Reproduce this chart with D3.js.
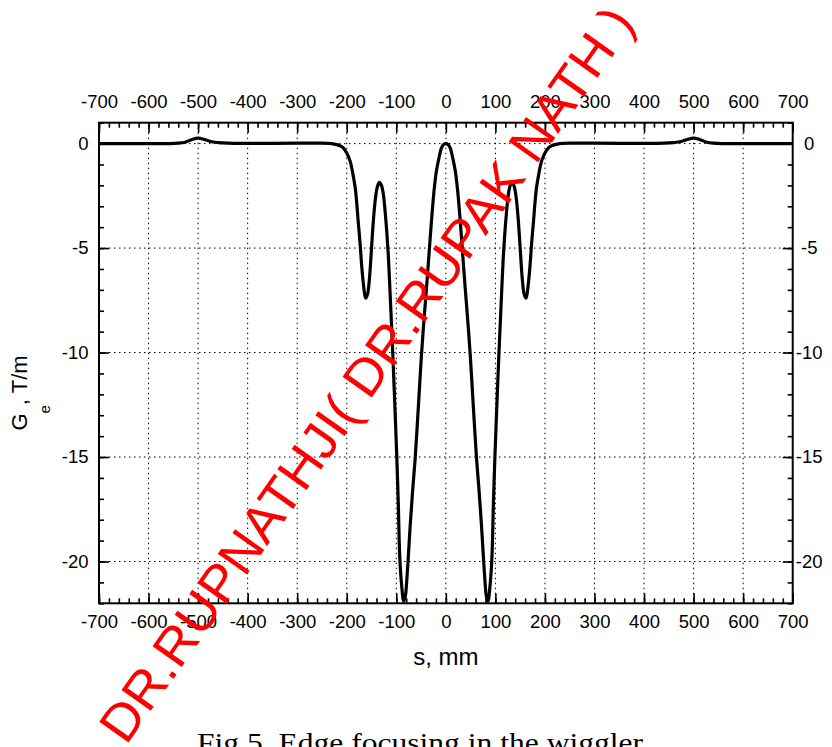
<!DOCTYPE html>
<html><head><meta charset="utf-8">
<script src="https://cdn.jsdelivr.net/npm/d3@7"></script>
<style>
html,body{margin:0;padding:0;background:#fff;}
svg{display:block;}
text{font-family:"Liberation Sans",Arial,sans-serif;}
</style></head>
<body>
<svg id="chart" width="832" height="747"></svg>
<script>
// ---- data ----
const sValues = [-700,-600,-560,-540,-525,-512,-500,-488,-475,-460,-440,-400,-300,-260,-230,-220,-212,-207,-200,-193,-188,-183,-180,-177,-173,-170,-166,-162,-158,-154,-150,-146,-142,-138,-134,-130,-126,-122,-119,-116,-113,-110,-107,-103,-99,-96,-93,-89,-85,-82,-78,-72,-67,-62,-57,-52,-49,-44,-39,-34,-29,-24,-19,-14,-9,-4,0,
 4,9,14,19,24,29,34,39,44,49,52,57,62,67,72,78,82,85,89,93,96,99,103,107,110,113,116,119,122,126,130,134,138,142,146,150,154,158,162,166,170,173,177,180,183,188,193,200,207,212,220,230,260,300,400,440,460,475,488,500,512,525,540,560,600,700];
const gValues = [0,0,0,0.02,0.08,0.2,0.26,0.2,0.1,0.05,0.02,0.01,0.02,0.02,0,-0.05,-0.12,-0.2,-0.45,-0.85,-1.4,-2.1,-2.8,-3.7,-4.8,-5.8,-6.8,-7.4,-7.2,-6.4,-5.0,-3.6,-2.6,-2.05,-1.86,-2.0,-2.45,-3.4,-4.3,-5.4,-6.9,-8.5,-10.1,-12.5,-15.0,-17.2,-19.8,-21.2,-21.9,-21.7,-20.6,-18.3,-16.6,-15.1,-13.2,-11.2,-10.05,-8.4,-6.9,-5.3,-3.7,-2.3,-1.3,-0.7,-0.22,-0.03,0,
 -0.03,-0.22,-0.7,-1.3,-2.3,-3.7,-5.3,-6.9,-8.4,-10.05,-11.2,-13.2,-15.1,-16.6,-18.3,-20.6,-21.7,-21.9,-21.2,-19.8,-17.2,-15.0,-12.5,-10.1,-8.5,-6.9,-5.4,-4.3,-3.4,-2.45,-2.0,-1.86,-2.05,-2.6,-3.6,-5.0,-6.4,-7.2,-7.4,-6.8,-5.8,-4.8,-3.7,-2.8,-2.1,-1.4,-0.85,-0.45,-0.2,-0.12,-0.05,0,0.02,0.02,0.01,0.02,0.05,0.1,0.2,0.26,0.2,0.08,0.02,0,0,0];
const xTickValues = [-700,-600,-500,-400,-300,-200,-100,0,100,200,300,400,500,600,700];
const yTickValues = [0,-5,-10,-15,-20];
const xLabel = "s, mm";
const caption = "Fig.5. Edge focusing in the wiggler";
const watermark = "DR.RUPNATHJI( DR.RUPAK NATH )";

// ---- layout ----
const L = 99, R = 792.7, T = 122.7, B = 603.3;
const svg = d3.select("#chart");
const x = d3.scaleLinear().domain([-700, 700]).range([L, R]);
const y = d3.scaleLinear().domain([-22, 1]).range([B, T]);
const data = sValues.map((s, i) => ({s, g: gValues[i]}));
const fmt = d => String(d);

// grid
const grid = svg.append("g").attr("stroke", "#000").attr("stroke-width", 1).attr("stroke-dasharray", "1.5,3.5");
grid.selectAll("line.v").data(xTickValues.filter(v => v > -700 && v < 700)).join("line")
  .attr("x1", d => x(d)).attr("x2", d => x(d)).attr("y1", T).attr("y2", B);
grid.selectAll("line.h").data(yTickValues).join("line")
  .attr("x1", L).attr("x2", R).attr("y1", d => y(d)).attr("y2", d => y(d));

// clip + curve
svg.append("clipPath").attr("id", "clip").append("rect")
  .attr("x", L).attr("y", T).attr("width", R - L).attr("height", B - T);
const line = d3.line().x(d => x(d.s)).y(d => y(d.g)).curve(d3.curveCatmullRom.alpha(0.5));
svg.append("path").datum(data).attr("clip-path", "url(#clip)")
  .attr("fill", "none").attr("stroke", "#000").attr("stroke-width", 3.2)
  .attr("stroke-linejoin", "round").attr("d", line);

// axes
const fs = "18.5px";
function styleAxis(g) {
  g.select(".domain").remove();
  g.selectAll(".tick line").attr("stroke", "#000").attr("stroke-width", 1.6);
  g.selectAll(".tick text").attr("fill", "#000").style("font-size", fs)
   .style("font-family", "'Liberation Sans', Arial, sans-serif");
}
const minorX = d3.range(-700, 701, 20);
const minorY = d3.range(-22, 1.01, 1);

svg.append("g").attr("transform", `translate(0,${T})`)
  .call(d3.axisTop(x).tickValues(minorX).tickSize(-5).tickFormat("")).call(styleAxis);
svg.append("g").attr("transform", `translate(0,${T})`)
  .call(d3.axisTop(x).tickValues(xTickValues).tickSize(-10).tickPadding(14.5).tickFormat(fmt)).call(styleAxis);
svg.append("g").attr("transform", `translate(0,${B})`)
  .call(d3.axisBottom(x).tickValues(minorX).tickSize(-5).tickFormat("")).call(styleAxis);
svg.append("g").attr("transform", `translate(0,${B})`)
  .call(d3.axisBottom(x).tickValues(xTickValues).tickSize(-10).tickPadding(12).tickFormat(fmt)).call(styleAxis);
svg.append("g").attr("transform", `translate(${L},0)`)
  .call(d3.axisLeft(y).tickValues(minorY).tickSize(-5).tickFormat("")).call(styleAxis);
svg.append("g").attr("transform", `translate(${L},0)`)
  .call(d3.axisLeft(y).tickValues(yTickValues).tickSize(-10).tickPadding(10.5).tickFormat(fmt)).call(styleAxis);
svg.append("g").attr("transform", `translate(${R},0)`)
  .call(d3.axisRight(y).tickValues(minorY).tickSize(-5).tickFormat("")).call(styleAxis);
const rightAx = svg.append("g").attr("transform", `translate(${R},0)`)
  .call(d3.axisRight(y).tickValues(yTickValues).tickSize(-10).tickPadding(4).tickFormat(fmt)).call(styleAxis);
rightAx.selectAll(".tick text").attr("text-anchor", "middle").attr("x", 16.5);

// frame
svg.append("rect").attr("x", L).attr("y", T).attr("width", R - L).attr("height", B - T)
  .attr("fill", "none").attr("stroke", "#000").attr("stroke-width", 2);

// axis titles
svg.append("text").attr("x", (L + R) / 2).attr("y", 665).attr("text-anchor", "middle")
  .style("font-size", "24px").text(xLabel);
const yt = svg.append("text").attr("transform", "translate(26.5,393) rotate(-90)")
  .attr("text-anchor", "middle").style("font-size", "22px");
yt.append("tspan").text("G");
yt.append("tspan").attr("dy", 23).style("font-size", "15px").text("e");
yt.append("tspan").attr("dy", -23).text(", T/m");

// caption
svg.append("text").attr("x", 197).attr("y", 752)
  .style("font-family", "'Liberation Serif', 'Times New Roman', serif").style("font-size", "28px")
  .attr("textLength", 446).attr("lengthAdjust", "spacingAndGlyphs").text(caption);

// watermark
svg.append("text").attr("transform", "translate(126,746) rotate(-54.8)")
  .attr("fill", "#ff0000").style("font-size", "52px")
  .attr("textLength", 885).attr("lengthAdjust", "spacingAndGlyphs").text(watermark);
</script>
</body></html>
